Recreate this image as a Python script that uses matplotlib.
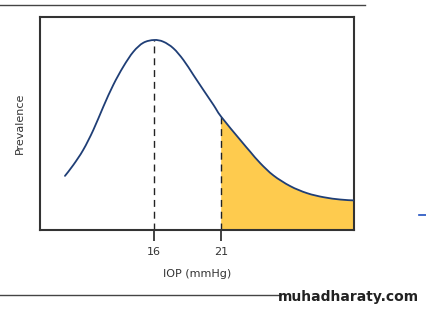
import matplotlib
matplotlib.use("Agg")
import matplotlib.pyplot as plt
from matplotlib.lines import Line2D
from matplotlib.path import Path
from matplotlib.patches import PathPatch
import numpy as np

# Data
iop = [9.36, 9.98, 10.72, 11.47, 12.22, 12.96, 13.71, 14.46, 15.20, 16.0, 16.69, 17.44,
       18.19, 18.93, 19.68, 20.43, 21.0, 22.42, 23.16, 23.91, 24.90, 26.15, 27.40,
       28.63, 29.88, 30.87]
prevalence = [0.254, 0.305, 0.376, 0.469, 0.579, 0.681, 0.767, 0.837, 0.879, 0.892, 0.884,
              0.853, 0.798, 0.728, 0.657, 0.587, 0.532, 0.423, 0.368, 0.314, 0.256, 0.206,
              0.173, 0.154, 0.143, 0.139]
tick_values = [16, 21]
tick_labels = ["16", "21"]
mode_iop = 16
threshold_iop = 21.0


def smooth_path_parts(xs, ys):
    """Catmull-Rom through the given points, as cubic Bezier path parts."""
    pts = np.column_stack([xs, ys])
    n = len(pts)
    verts = [pts[0]]
    codes = [Path.MOVETO]
    for i in range(n - 1):
        p0 = pts[i - 1] if i > 0 else pts[i]
        p1 = pts[i]
        p2 = pts[i + 1]
        p3 = pts[i + 2] if i + 2 < n else pts[i + 1]
        c1 = p1 + (p2 - p0) / 6.0
        c2 = p2 - (p3 - p1) / 6.0
        verts += [c1, c2, p2]
        codes += [Path.CURVE4] * 3
    return verts, codes


fig = plt.figure(figsize=(4.27, 3.09), dpi=100)
ax = fig.add_axes([40/427, 1-230/309, (354-40)/427, (230-17)/309])

k = iop.index(threshold_iop)
fv, fc = smooth_path_parts(iop[k:], prevalence[k:])
fv = fv + [(iop[-1], 0), (threshold_iop, 0), (threshold_iop, prevalence[k])]
fc = fc + [Path.LINETO, Path.LINETO, Path.CLOSEPOLY]
ax.add_patch(PathPatch(Path(fv, fc), facecolor="#FECB4E", edgecolor="none", zorder=1))

v, c = smooth_path_parts(iop, prevalence)
ax.add_patch(PathPatch(Path(v, c), facecolor="none", edgecolor="#1F3E76", lw=1.3,
                       zorder=3, capstyle="round"))

peak = prevalence[iop.index(mode_iop)]
thr = prevalence[k]
ax.plot([mode_iop, mode_iop], [0, peak], color="#222222", lw=1.0, ls=(0, (5, 3.5)), zorder=2)
ax.plot([threshold_iop, threshold_iop], [0, thr], color="#222222", lw=1.0, ls=(0, (5, 3.5)), zorder=2)

ax.set_xlim(7.5, 30.9)
ax.set_ylim(0, 1)
ax.set_xticks(tick_values)
ax.set_xticklabels(tick_labels, fontsize=8, color="#333333")
ax.tick_params(axis="x", direction="out", length=8, width=1.2, color="#222222", pad=4)
ax.set_yticks([])
for s in ax.spines.values():
    s.set_color("#333333")
    s.set_linewidth(1.5)
ax.set_xlabel("IOP (mmHg)", fontsize=8, color="#333333", labelpad=9)
ax.set_ylabel("Prevalence", fontsize=8, color="#333333", labelpad=11)

# Decorative slide elements
fig.add_artist(Line2D([0, 365/427], [1-5/309, 1-5/309], color="#444444", lw=1.0))
fig.add_artist(Line2D([0, 280/427], [1-295/309, 1-295/309], color="#444444", lw=1.0))
fig.add_artist(Line2D([419/427, 1.0], [1-215/309, 1-215/309], color="#2050C0", lw=1.2))
fig.text(278/427, 1-297/309, "muhadharaty.com", fontsize=10, fontweight="bold",
         color="#222222", va="center", ha="left")

fig.savefig("out.png", dpi=100)
